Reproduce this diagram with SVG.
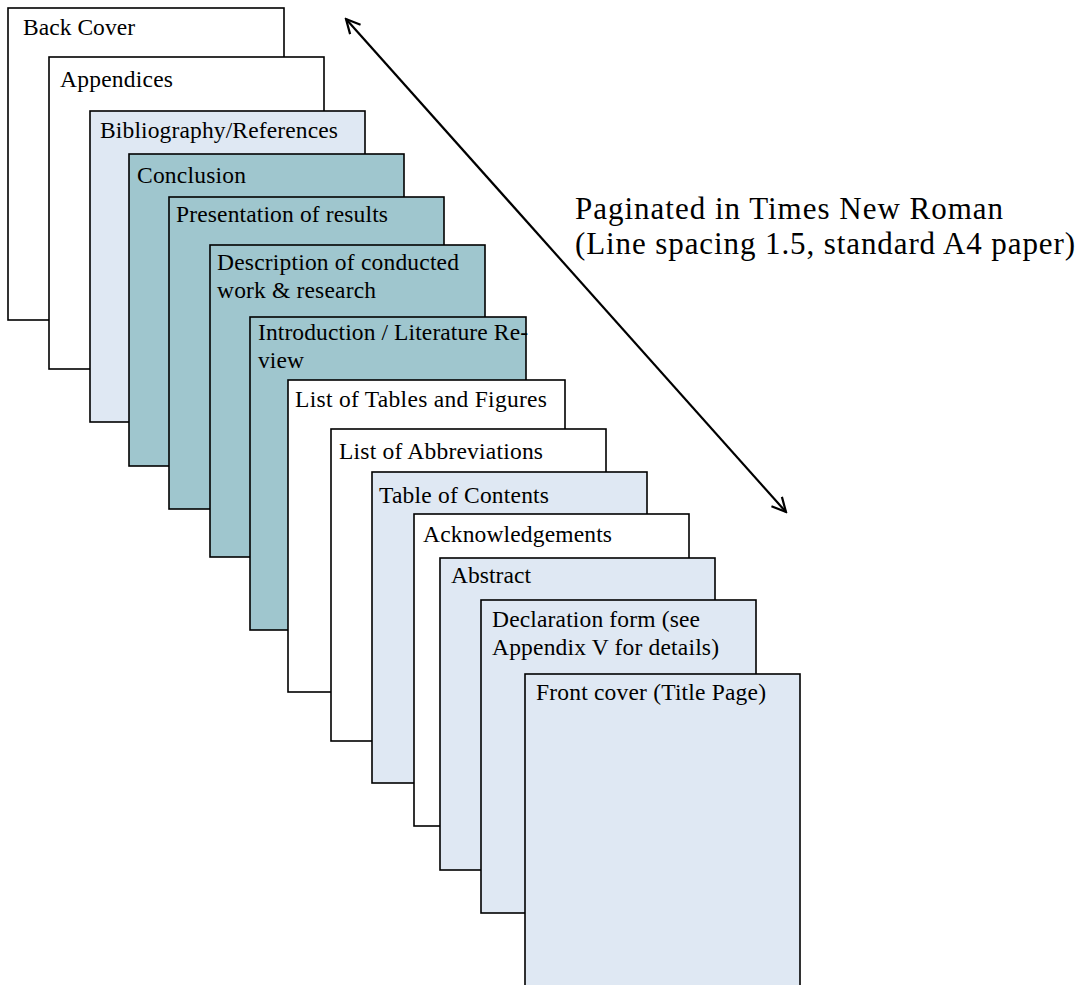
<svg xmlns="http://www.w3.org/2000/svg" width="1091" height="985" viewBox="0 0 1091 985">
<style>
.pg{stroke:#000;stroke-width:1.6}
.w{fill:#fff}
.lb{fill:#dfe8f3}
.tl{fill:#9fc6ce}
.t{font-family:"Liberation Serif","Times New Roman",serif;font-size:23.5px;fill:#000}
.side{font-family:"Liberation Serif","Times New Roman",serif;font-size:31px;fill:#000}
</style>
<defs>
<marker id="ah" viewBox="0 0 20 20" refX="18" refY="10" markerWidth="20" markerHeight="20" markerUnits="userSpaceOnUse" orient="auto-start-reverse">
<polyline points="4,3 18,10 4,17" fill="none" stroke="#000" stroke-width="2.2"/>
</marker>
</defs>
<rect width="1091" height="985" fill="#fff"/>
<g id="back-cover"><rect class="pg w" x="8" y="8" width="276" height="312"/><text class="t" x="23" y="35" textLength="112" lengthAdjust="spacing">Back Cover</text></g>
<g id="appendices"><rect class="pg w" x="49" y="57" width="275" height="312"/><text class="t" x="60" y="87" textLength="113" lengthAdjust="spacing">Appendices</text></g>
<g id="bibliography"><rect class="pg lb" x="90" y="111" width="275" height="311"/><text class="t" x="100" y="138" textLength="238" lengthAdjust="spacing">Bibliography/References</text></g>
<g id="conclusion"><rect class="pg tl" x="129" y="154" width="275" height="312"/><text class="t" x="137" y="183" textLength="109" lengthAdjust="spacing">Conclusion</text></g>
<g id="presentation"><rect class="pg tl" x="169" y="197" width="275" height="312"/><text class="t" x="176" y="222" textLength="212" lengthAdjust="spacing">Presentation of results</text></g>
<g id="description"><rect class="pg tl" x="210" y="245" width="275" height="312"/><text class="t" x="217" y="270" textLength="242" lengthAdjust="spacing">Description of conducted</text><text class="t" x="217" y="298" textLength="159" lengthAdjust="spacing">work &amp; research</text></g>
<g id="introduction"><rect class="pg tl" x="250" y="317" width="276" height="313"/><text class="t" x="258" y="340" textLength="270" lengthAdjust="spacing">Introduction / Literature Re-</text><text class="t" x="258" y="368" textLength="46" lengthAdjust="spacing">view</text></g>
<g id="list-tables"><rect class="pg w" x="288" y="380" width="277" height="312"/><text class="t" x="295" y="407" textLength="252" lengthAdjust="spacing">List of Tables and Figures</text></g>
<g id="list-abbrev"><rect class="pg w" x="331" y="429" width="275" height="312"/><text class="t" x="339" y="459" textLength="204" lengthAdjust="spacing">List of Abbreviations</text></g>
<g id="toc"><rect class="pg lb" x="372" y="472" width="275" height="311"/><text class="t" x="379" y="503" textLength="170" lengthAdjust="spacing">Table of Contents</text></g>
<g id="acknowledgements"><rect class="pg w" x="414" y="514" width="275" height="312"/><text class="t" x="423" y="542" textLength="189" lengthAdjust="spacing">Acknowledgements</text></g>
<g id="abstract"><rect class="pg lb" x="440" y="558" width="275" height="312"/><text class="t" x="451" y="583" textLength="80" lengthAdjust="spacing">Abstract</text></g>
<g id="declaration"><rect class="pg lb" x="481" y="600" width="275" height="313"/><text class="t" x="492" y="627" textLength="208" lengthAdjust="spacing">Declaration form (see</text><text class="t" x="492" y="655" textLength="227" lengthAdjust="spacing">Appendix V for details)</text></g>
<g id="front-cover"><rect class="pg lb" x="525" y="674" width="275" height="320"/><text class="t" x="536" y="700" textLength="230" lengthAdjust="spacing">Front cover (Title Page)</text></g>
<g id="connectors"><line x1="346" y1="19" x2="786" y2="512" stroke="#000" stroke-width="2.2" marker-start="url(#ah)" marker-end="url(#ah)"/></g>
<g id="label"><text class="side" x="575" y="219" textLength="428" lengthAdjust="spacing">Paginated in Times New Roman</text><text class="side" x="575" y="254" textLength="500" lengthAdjust="spacing">(Line spacing 1.5, standard A4 paper)</text></g>
</svg>
